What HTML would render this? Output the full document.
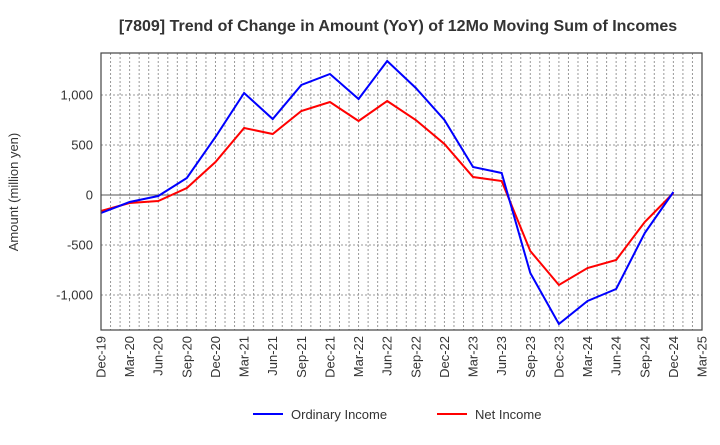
<!DOCTYPE html>
<html><head><meta charset="utf-8"><style>
body{margin:0;background:#fff;font-family:"Liberation Sans",Arial,sans-serif}
svg text{font-family:"Liberation Sans",Arial,sans-serif}
</style></head><body>
<svg id="chart" width="720" height="440" viewBox="0 0 720 440">
<text x="398" y="31" text-anchor="middle" font-size="16" font-weight="bold" fill="#333">[7809]  Trend of Change in Amount (YoY) of 12Mo Moving Sum of Incomes</text>
<g id="grid"></g><g id="series"></g><g id="axes"></g>
<text transform="translate(18,192) rotate(-90)" text-anchor="middle" font-size="13" fill="#333">Amount (million yen)</text>
<g>
<line x1="253" y1="414" x2="283" y2="414" stroke="#0000ff" stroke-width="2"/>
<text x="291" y="419" font-size="13" fill="#333">Ordinary Income</text>
<line x1="437" y1="414" x2="467" y2="414" stroke="#ff0000" stroke-width="2"/>
<text x="475" y="419" font-size="13" fill="#333">Net Income</text>
</g>
</svg>
<script>
const categories=["Dec-19","Mar-20","Jun-20","Sep-20","Dec-20","Mar-21","Jun-21","Sep-21","Dec-21","Mar-22","Jun-22","Sep-22","Dec-22","Mar-23","Jun-23","Sep-23","Dec-23","Mar-24","Jun-24","Sep-24","Dec-24","Mar-25"];
const ordinaryIncome=[-180,-70,-10,170,580,1020,760,1100,1210,960,1340,1070,750,280,220,-780,-1290,-1060,-940,-380,30];
const netIncome=[-160,-80,-60,70,330,670,610,840,930,740,940,750,510,180,140,-560,-900,-730,-650,-270,20];
const yTicks=[-1000,-500,0,500,1000];
const yTickLabels=["-1,000","-500","0","500","1,000"];
const L=101,R=702,T=53,B=330,yMin=-1350,yMax=1420;
const ns="http://www.w3.org/2000/svg";
const xPos=i=>L+(R-L)*i/(categories.length-1);
const yPos=v=>B-(v-yMin)/(yMax-yMin)*(B-T);
function mk(tag,attrs,parent){const e=document.createElementNS(ns,tag);for(const k in attrs)e.setAttribute(k,attrs[k]);parent.appendChild(e);return e;}
const grid=document.getElementById('grid'),axes=document.getElementById('axes'),series=document.getElementById('series');
const nMonths=(categories.length-1)*3;
for(let m=1;m<nMonths;m++){const x=L+(R-L)*m/nMonths;
const l=mk('line',{x1:x,x2:x,y1:T,y2:B,stroke:'#999','stroke-dasharray':'2,2','stroke-width':1},grid);

}
yTicks.forEach((v,i)=>{const y=yPos(v);
const l=mk('line',{x1:L,x2:R,y1:y,y2:y,stroke:v===0?'#555':'#999','stroke-dasharray':v===0?'':'2,2','stroke-width':1},grid);


const t=mk('text',{x:L-8,y:y+4.5,'text-anchor':'end','font-size':13,fill:'#333'},axes);t.textContent=yTickLabels[i];

});
categories.forEach((c,i)=>{const x=xPos(i);
const t=mk('text',{transform:`translate(${x+4.5},${B+6}) rotate(-90)`,'text-anchor':'end','font-size':13,fill:'#333'},axes);t.textContent=c;

});
const fr=mk('rect',{x:L,y:T,width:R-L,height:B-T,fill:'none',stroke:'#444','stroke-width':1.2},axes);


function line(vals,color,name){const p=mk('polyline',{points:vals.map((v,i)=>xPos(i)+','+yPos(v)).join(' '),fill:'none',stroke:color,'stroke-width':2},series);

}
line(netIncome,'#ff0000','net-income-line');
line(ordinaryIncome,'#0000ff','ordinary-income-line');
</script>
</body></html>
